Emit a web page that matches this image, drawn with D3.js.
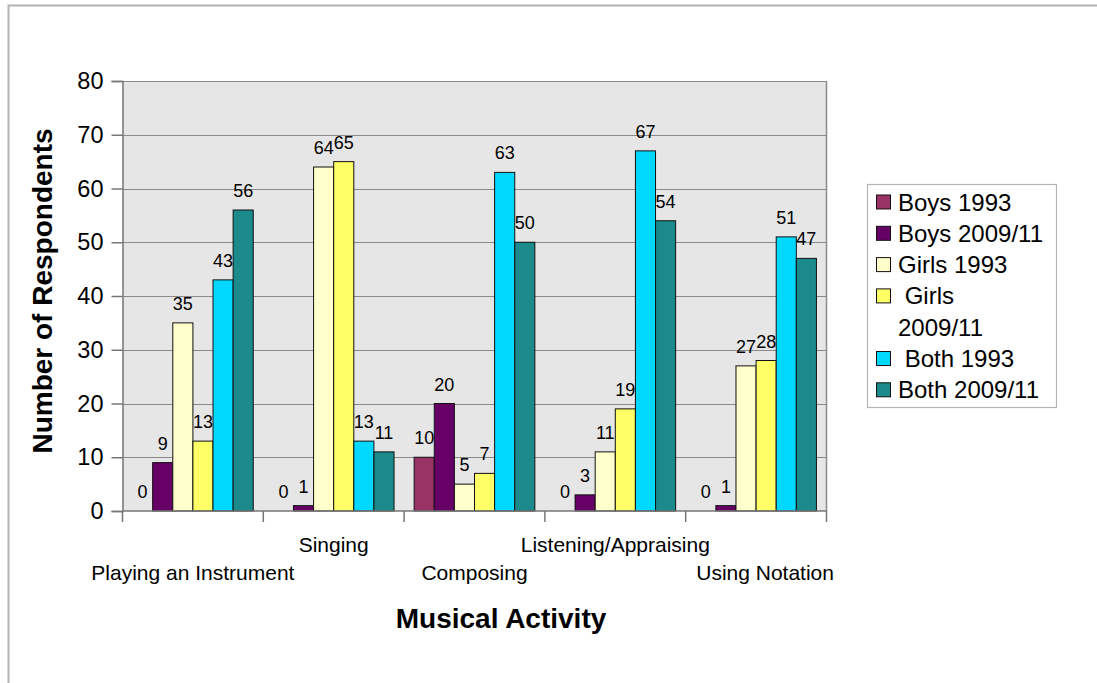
<!DOCTYPE html>
<html>
<head>
<meta charset="utf-8">
<script src="https://cdn.jsdelivr.net/npm/d3@7"></script>
<style>
  html, body { margin: 0; padding: 0; background: #fff; }
  svg { display: block; font-family: "Liberation Sans", Arial, sans-serif; }
</style>
</head>
<body>
<svg id="chart" width="1097" height="683"></svg>
<script>
// Musical activities surveyed
const categories = ["Playing an Instrument", "Singing", "Composing", "Listening/Appraising", "Using Notation"];

// Respondent groups (legend order)
const seriesNames = ["Boys 1993", "Boys 2009/11", "Girls 1993", "Girls 2009/11", "Both 1993", "Both 2009/11"];
const seriesLegendLabels = [["Boys 1993"], ["Boys 2009/11"], ["Girls 1993"], [" Girls", "2009/11"], [" Both 1993"], ["Both 2009/11"]];
const seriesColors = ["#993366", "#660066", "#FFFFCC", "#FFFF66", "#00D8FF", "#1A8A8A"];

// Number of respondents per series, one value per category
const boys1993   = [0, 0, 10, 0, 0];
const boys2009   = [9, 1, 20, 3, 1];
const girls1993  = [35, 64, 5, 11, 27];
const girls2009  = [13, 65, 7, 19, 28];
const both1993   = [43, 13, 63, 67, 51];
const both2009   = [56, 11, 50, 54, 47];
const seriesValues = [boys1993, boys2009, girls1993, girls2009, both1993, both2009];

const yTicks = [0, 10, 20, 30, 40, 50, 60, 70, 80];

const svg = d3.select("#chart");

// outer chart frame
svg.append("rect")
  .attr("x", 8.5).attr("y", 5.5)
  .attr("width", 1200).attr("height", 800)
  .attr("fill", "#fff")
  .attr("stroke", "#b3b3b3").attr("stroke-width", 2);

const plot = { left: 122.5, right: 826.5, top: 81, bottom: 511 };

const x0 = d3.scaleBand()
  .domain(categories)
  .range([plot.left, plot.right])
  .paddingInner(0).paddingOuter(0);

const x1 = d3.scaleBand()
  .domain(seriesNames)
  .range([0, x0.bandwidth()])
  .paddingInner(0).paddingOuter(0.5);

const y = d3.scaleLinear().domain([0, 80]).range([plot.bottom, plot.top]);

// plot background
svg.append("rect")
  .attr("x", plot.left).attr("y", plot.top)
  .attr("width", plot.right - plot.left).attr("height", plot.bottom - plot.top)
  .attr("fill", "#E6E6E6");

// gridlines
svg.append("g")
  .selectAll("line")
  .data(yTicks.filter(d => d > 0))
  .join("line")
  .attr("x1", plot.left).attr("x2", plot.right)
  .attr("y1", d => Math.round(y(d)) + 0.5).attr("y2", d => Math.round(y(d)) + 0.5)
  .attr("stroke", "#8a8a8a").attr("stroke-width", 1.2);

// right frame of plot area
svg.append("line")
  .attr("x1", plot.right).attr("x2", plot.right)
  .attr("y1", plot.top).attr("y2", plot.bottom)
  .attr("stroke", "#8a8a8a").attr("stroke-width", 1.5);

// bars
const rows = [];
categories.forEach((c, ci) => {
  seriesNames.forEach((s, si) => {
    rows.push({ cat: c, series: s, si, value: seriesValues[si][ci] });
  });
});

svg.append("g")
  .selectAll("rect")
  .data(rows.filter(d => d.value > 0))
  .join("rect")
  .attr("x", d => x0(d.cat) + x1(d.series))
  .attr("y", d => y(d.value))
  .attr("width", x1.bandwidth())
  .attr("height", d => y(0) - y(d.value))
  .attr("fill", d => seriesColors[d.si])
  .attr("stroke", "#111")
  .attr("stroke-width", 1);

// value labels
svg.append("g")
  .selectAll("text")
  .data(rows)
  .join("text")
  .attr("x", d => x0(d.cat) + x1(d.series) + x1.bandwidth() / 2)
  .attr("y", d => y(d.value) - 13)
  .attr("text-anchor", "middle")
  .attr("font-size", 18)
  .attr("fill", "#000")
  .text(d => d.value);

// y axis
const yAxis = d3.axisLeft(y).tickValues(yTicks).tickSize(11).tickPadding(8);
const gy = svg.append("g")
  .attr("transform", `translate(${plot.left},0)`)
  .call(yAxis);
gy.select(".domain").attr("stroke", "#777").attr("stroke-width", 1.5);
gy.selectAll(".tick line").attr("stroke", "#777").attr("stroke-width", 1.5);
gy.selectAll(".tick text")
  .attr("font-size", 23.5)
  .attr("font-family", "Liberation Sans, Arial, sans-serif")
  .attr("fill", "#000");

// x axis line with tick marks at category boundaries
const gx = svg.append("g");
gx.append("line")
  .attr("x1", plot.left).attr("x2", plot.right)
  .attr("y1", plot.bottom).attr("y2", plot.bottom)
  .attr("stroke", "#777").attr("stroke-width", 1.5);
const boundaries = categories.map(c => x0(c)).concat([x0(categories[categories.length - 1]) + x0.bandwidth()]);
gx.selectAll("line.tk")
  .data(boundaries)
  .join("line")
  .attr("class", "tk")
  .attr("x1", d => d).attr("x2", d => d)
  .attr("y1", plot.bottom).attr("y2", plot.bottom + 11)
  .attr("stroke", "#777").attr("stroke-width", 1.5);

// staggered category labels; the last one is kept clear of the right edge
gx.selectAll("text")
  .data(categories)
  .join("text")
  .attr("x", (d, i) => x0(d) + x0.bandwidth() / 2 + (i === categories.length - 1 ? 9 : 0))
  .attr("y", (d, i) => i % 2 === 0 ? 580 : 552)
  .attr("text-anchor", "middle")
  .attr("font-size", 21)
  .attr("fill", "#000")
  .text(d => d);

// axis titles
svg.append("text")
  .attr("x", 501).attr("y", 628)
  .attr("text-anchor", "middle")
  .attr("font-size", 28).attr("font-weight", "bold")
  .text("Musical Activity");

svg.append("text")
  .attr("transform", "translate(52,291) rotate(-90)")
  .attr("text-anchor", "middle")
  .attr("font-size", 28).attr("font-weight", "bold")
  .text("Number of Respondents");

// legend
const legend = svg.append("g");
legend.append("rect")
  .attr("x", 867.5).attr("y", 184.5)
  .attr("width", 189).attr("height", 223)
  .attr("fill", "#fff")
  .attr("stroke", "#b3b3b3").attr("stroke-width", 1.2);

let rowY = 202;
seriesNames.forEach((s, i) => {
  legend.append("rect")
    .attr("x", 876.5).attr("y", rowY - 7)
    .attr("width", 14).attr("height", 14)
    .attr("fill", seriesColors[i])
    .attr("stroke", "#111").attr("stroke-width", 1);
  seriesLegendLabels[i].forEach((line, li) => {
    legend.append("text")
      .attr("x", 898).attr("y", rowY + 8.5 + li * 31.3)
      .attr("font-size", 24)
      .attr("xml:space", "preserve")
      .style("white-space", "pre")
      .text(line);
  });
  rowY += 31.3 * seriesLegendLabels[i].length;
});
</script>
</body>
</html>
